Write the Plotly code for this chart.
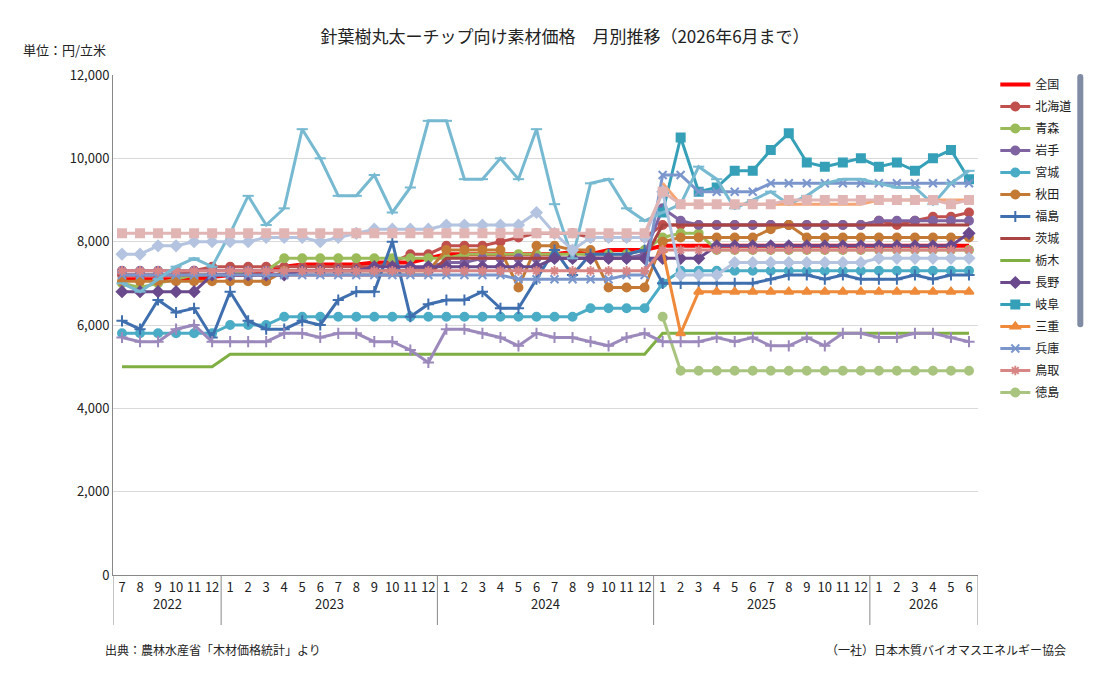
import plotly.graph_objects as go

years = ["2022"]*6 + ["2023"]*12 + ["2024"]*12 + ["2025"]*12 + ["2026"]*6
months = [str(m) for m in range(7, 13)] + [str(m) for m in range(1, 13)]*3 + [str(m) for m in range(1, 7)]
N = None

zenkoku = [7100,7100,7100,7100,7100,7150, 7200,7200,7250,7400,7450,7450,7450,7450,7500,7500,7500,7600,
           7700,7700,7700,7700,7700,7700,7700,7750,7700,7800,7800,7800] + [7900]*18
hokkaido = [7200,7200,7200,7200,7300,7400, 7400,7400,7400,7400,7400,7400,7400,7400,7400,7500,7700,7700,
            7900,7900,7900,8000,8100,8200,8200,8200,8100,8100,8100,8100] + [8400]*12 + [8500,8400,8500,8600,8600,8700]
aomori = [7000,6900,7000,7100,7200,7200, 7200,7300,7300,7600,7600,7600,7600,7600,7600,7600,7600,7600,
          7600,7700,7700,7700,7700,7700,7700,7700,7700,7700,7700,7800, 8100,8200,8200] + [7800]*15
iwate = [7300]*6 + [7300]*11 + [7400] + [7500,7500,7600,7600,7600,7600,7600,7600,7600,7600,7600,7700] + [8800,8500] + [8400]*10 + [8500]*6
miyagi = [5800]*6 + [6000,6000,6000,6200,6200,6200,6200,6200,6200,6200,6200,6200,
          6200,6200,6200,6200,6200,6200,6200,6200,6400,6400,6400,6400] + [7000] + [7300]*17
akita = [7050]*6 + [7050,7050,7050,7300,7300,7300,7300,7300,7300,7300,7300,7300,
         7800,7800,7800,7800,6900,7900,7900,7800,7800,6900,6900,6900,
         8000,8100,8100,8100,8100,8100,8300,8400,8100,8100,8100,8100] + [8100]*6
fukushima = [6100,5900,6600,6300,6400,5700, 6800,6100,5900,5900,6100,6000,6600,6800,6800,8000,6200,6500,
             6600,6600,6800,6400,6400,7100,7800,7200,7700,7700,7700,7800,
             7000,7000,7000,7000,7000,7000,7100,7200,7200,7100,7200,7100, 7100,7100,7200,7100,7200,7200]
ibaraki = [7200]*18 + [7600]*12 + [8400]*18
tochigi = [5000]*6 + [5300]*24 + [5800]*18
nagano = [6800,6800,6800,6800,6800,7200] + [7200]*4 + [7300]*4 + [7400]*4 + [7400]*6 + [7600]*6 + [7600,7600,7600] + [7900]*9 + [7900]*5 + [8200]
gifu = [N]*30 + [8700,10500,9200,9300,9700,9700,10200,10600,9900,9800,9900,10000, 9800,9900,9700,10000,10200,9500]
mie = [N]*30 + [7800,5800] + [6800]*16
hyogo = [7200]*6 + [7200]*12 + [7200,7200,7200,7200,7100,7100,7100,7100,7100,7100,7200,7200] + [9600,9600,9200,9200,9200,9200,9400,9400,9400,9400,9400,9400] + [9400]*6
tottori = [7300]*30 + [7800]*18
tokushima = [N]*30 + [6200] + [4900]*17
kochi = [5700,5600,5600,5900,6000,5600, 5600,5600,5600,5800,5800,5700,5800,5800,5600,5600,5400,5100,
         5900,5900,5800,5700,5500,5800,5700,5700,5600,5500,5700,5800,
         5600,5600,5600,5700,5600,5700,5500,5500,5700,5500,5800,5800, 5700,5700,5800,5800,5700,5600]
kumamoto = [7000,6800,7100,7400,7600,7400, 8200,9100,8400,8800,10700,10000,9100,9100,9600,8700,9300,10900,
            10900,9500,9500,10000,9500,10700,8900,7600,9400,9500,8800,8500,
            8700,8900,9800,9500,8800,9000,9200,8900,9100,9400,9500,9500, 9400,9300,9300,8900,9400,9700]
oita = [N]*30 + [9400] + [8900]*11 + [9000]*6
miyazaki = [7700,7700,7900,7900,8000,8000, 8000,8000,8100,8100,8100,8000,8100,8200,8300,8300,8300,8300,
            8400,8400,8400,8400,8400,8700,8200,7800,8100,8100,8100,8100,
            9200,7200,7200,7200] + [7500]*8 + [7600]*6
kagoshima = [8200]*30 + [9200] + [8900]*6 + [9000]*5 + [9000,9000,9000,9000,8900,9000]

series = [
    ("全国", zenkoku, "#FF0000", None, 4),
    ("北海道", hokkaido, "#C0504D", "circle", 3),
    ("青森", aomori, "#9BBB59", "circle", 3),
    ("岩手", iwate, "#8064A2", "circle", 3),
    ("宮城", miyagi, "#4BACC6", "circle", 3),
    ("秋田", akita, "#C47A35", "circle", 3),
    ("福島", fukushima, "#3F6FAE", "cross-thin", 3),
    ("茨城", ibaraki, "#A94442", None, 3),
    ("栃木", tochigi, "#7FAF42", None, 3),
    ("長野", nagano, "#6A4A8C", "diamond", 3),
    ("岐阜", gifu, "#35A0B8", "square", 3),
    ("三重", mie, "#EE8A3A", "triangle-up", 3),
    ("兵庫", hyogo, "#7B96CC", "x-thin", 3),
    ("鳥取", tottori, "#D88585", "asterisk", 3),
    ("徳島", tokushima, "#A9C47F", "circle", 3),
    ("高知", kochi, "#9C89BC", "cross-thin", 3),
    ("熊本", kumamoto, "#76B9D1", "line-ew", 3),
    ("大分", oita, "#F6A574", None, 3),
    ("宮崎", miyazaki, "#B4C4E0", "diamond", 3),
    ("鹿児島", kagoshima, "#E2B5B5", "square", 3),
]

xs = list(range(len(months)))
fig = go.Figure()
for name, vals, col, sym, w in series:
    kw = dict(x=xs, y=vals, name=name, legendgroup=name, line=dict(color=col, width=w))
    if sym:
        kw["mode"] = "lines+markers"
        kw["marker"] = dict(symbol=sym, color=col, size=8, line=dict(color=col, width=2))
    else:
        kw["mode"] = "lines"
    fig.add_trace(go.Scatter(**kw))

# year group labels and dividers
shapes, anns = [], []
bounds = [i for i in range(1, len(years)) if years[i] != years[i-1]]
edges = [-0.5] + [b - 0.5 for b in bounds] + [len(years) - 0.5]
for e in edges:
    shapes.append(dict(type="line", xref="x", yref="paper", x0=e, x1=e, y0=0, y1=-0.1,
                       line=dict(color="#888", width=1)))
starts = [0] + bounds
ends = bounds + [len(years)]
for s, en in zip(starts, ends):
    anns.append(dict(text=years[s], x=(s + en - 1) / 2, y=-0.08, xref="x", yref="paper",
                     showarrow=False, font=dict(size=13)))

anns += [
    dict(text="単位：円/立米", x=0, y=1.075, xref="paper", yref="paper", xanchor="left", xshift=-92, showarrow=False, font=dict(size=13)),
    dict(text="出典：農林水産省「木材価格統計」より", x=0, y=-0.17, xref="paper", yref="paper", xanchor="left", xshift=-10, showarrow=False, font=dict(size=12)),
    dict(text="（一社）日本木質バイオマスエネルギー協会", x=1, y=-0.17, xref="paper", yref="paper", xanchor="right", xshift=90, showarrow=False, font=dict(size=12)),
]

fig.update_layout(
    width=1114, height=673,
    paper_bgcolor="white", plot_bgcolor="white",
    font=dict(family="Noto Sans CJK JP", size=13, color="#222"),
    margin=dict(l=105, r=144, t=67, b=106),
    title=dict(text="針葉樹丸太ーチップ向け素材価格　月別推移（2026年6月まで）", x=0.5, xanchor="center", y=0.965, font=dict(size=17)),
    showlegend=True,
    legend=dict(x=1.02, y=1.01, yanchor="top", font=dict(size=12), tracegroupgap=3,
                bgcolor="rgba(0,0,0,0)"),
    xaxis=dict(range=[-0.5, len(months) - 0.5], tickvals=xs, ticktext=months, tickangle=0,
               showline=True, linecolor="#888", ticks="", showgrid=False, zeroline=False,
               tickfont=dict(size=13)),
    yaxis=dict(range=[0, 12000], dtick=2000, tickformat=",", gridcolor="#D9D9D9",
               showline=True, linecolor="#888", tickfont=dict(size=13), zeroline=False),
    shapes=shapes, annotations=anns,
)
fig.write_html("out.html")
